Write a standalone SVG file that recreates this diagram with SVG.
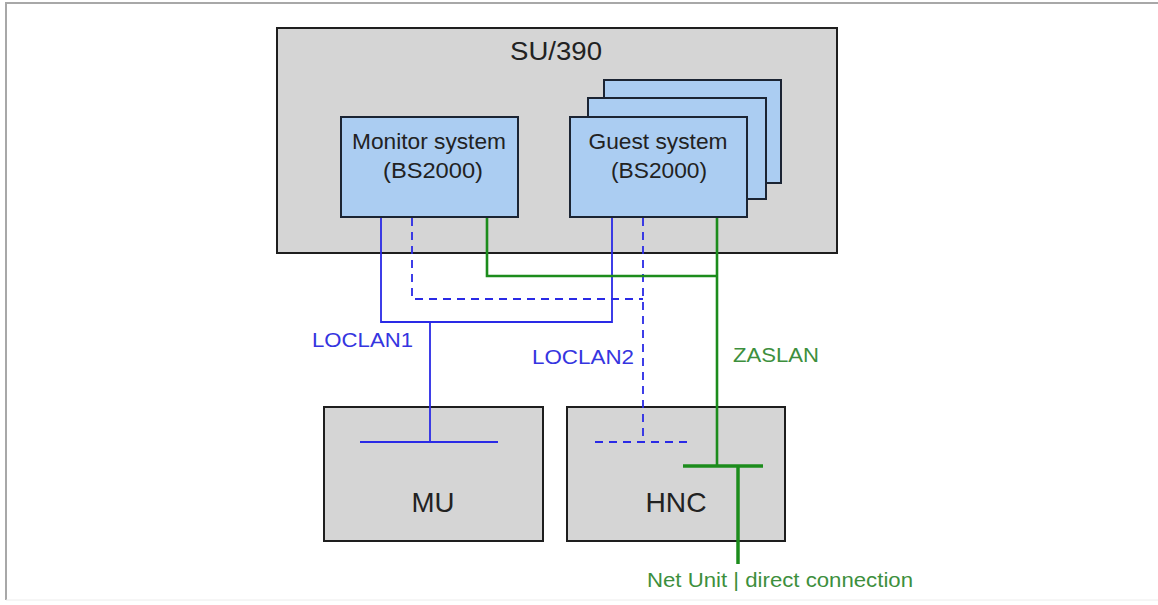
<svg xmlns="http://www.w3.org/2000/svg" width="1158" height="605" viewBox="0 0 1158 605">
<style>
.box{fill:#d5d5d5;stroke:#1e1e1e;stroke-width:2}
.sys{fill:#abcdf2;stroke:#1b2433;stroke-width:2}
.t{font-family:"Liberation Sans",Arial,sans-serif;fill:#222;text-anchor:middle}
.blue{stroke:#2a2ae6;stroke-width:1.8;fill:none}
.dash{stroke:#2a2ae6;stroke-width:1.8;fill:none;stroke-dasharray:8,6}
.green{stroke:#1c8c1c;stroke-width:2.6;fill:none}
.gbus{stroke:#1c8c1c;stroke-width:3.5;fill:none}
.lb{font-family:"Liberation Sans",Arial,sans-serif;font-size:21px;fill:#3535e0}
.lg{font-family:"Liberation Sans",Arial,sans-serif;font-size:21px;fill:#3d8f3d}
</style>
<rect width="1158" height="605" fill="#ffffff"/>
<line x1="5" y1="3" x2="1158" y2="3" stroke="#a8a8a8" stroke-width="2"/>
<line x1="6" y1="2" x2="6" y2="600" stroke="#a8a8a8" stroke-width="2"/>
<line x1="6" y1="600" x2="1158" y2="600" stroke="#ececec" stroke-width="1"/>

<g id="su390">
<rect class="box" x="277" y="28" width="560" height="225"/>
<text class="t" x="556" y="60" font-size="25" textLength="92" lengthAdjust="spacingAndGlyphs">SU/390</text>
</g>
<g id="monitor">
<rect class="sys" x="341" y="117" width="177" height="100"/>
<text class="t" x="429" y="149" font-size="22" textLength="154" lengthAdjust="spacingAndGlyphs">Monitor system</text>
<text class="t" x="433" y="178" font-size="22" textLength="100" lengthAdjust="spacingAndGlyphs">(BS2000)</text>
</g>
<g id="guest">
<rect class="sys" x="604" y="80" width="177" height="103"/>
<rect class="sys" x="588" y="98" width="178" height="101"/>
<rect class="sys" x="570" y="117" width="177" height="100"/>
<text class="t" x="658" y="149" font-size="22" textLength="139" lengthAdjust="spacingAndGlyphs">Guest system</text>
<text class="t" x="659" y="178" font-size="22" textLength="96" lengthAdjust="spacingAndGlyphs">(BS2000)</text>
</g>
<g id="mu">
<rect class="box" x="324" y="407" width="219" height="134"/>
<text class="t" x="433" y="512" font-size="28" textLength="43" lengthAdjust="spacingAndGlyphs">MU</text>
</g>
<g id="hnc">
<rect class="box" x="567" y="407" width="218" height="134"/>
<text class="t" x="676" y="512" font-size="28" textLength="61" lengthAdjust="spacingAndGlyphs">HNC</text>
</g>

<g id="connectors">
<polyline class="blue" points="381,218 381,322 612,322 612,218"/>
<line class="blue" x1="430" y1="322" x2="430" y2="442"/>
<line class="blue" x1="360" y1="442" x2="498" y2="442"/>
<polyline class="dash" points="412,218 412,299 643,299"/>
<line class="dash" x1="643" y1="218" x2="643" y2="442"/>
<line class="dash" x1="595" y1="442" x2="690" y2="442"/>
<polyline class="green" points="487,218 487,276 717,276"/>
<line class="green" x1="717" y1="218" x2="717" y2="466"/>
<line class="gbus" x1="683" y1="466" x2="763" y2="466"/>
<line class="gbus" x1="738" y1="466" x2="738" y2="564"/>
</g>

<g id="labels">
<text class="lb" x="312" y="347" textLength="101" lengthAdjust="spacingAndGlyphs">LOCLAN1</text>
<text class="lb" x="532" y="364" textLength="102" lengthAdjust="spacingAndGlyphs">LOCLAN2</text>
<text class="lg" x="733" y="362" textLength="86" lengthAdjust="spacingAndGlyphs">ZASLAN</text>
<text class="lg" x="647" y="587" style="font-size:20px" textLength="266" lengthAdjust="spacingAndGlyphs">Net Unit | direct connection</text>
</g>
</svg>
